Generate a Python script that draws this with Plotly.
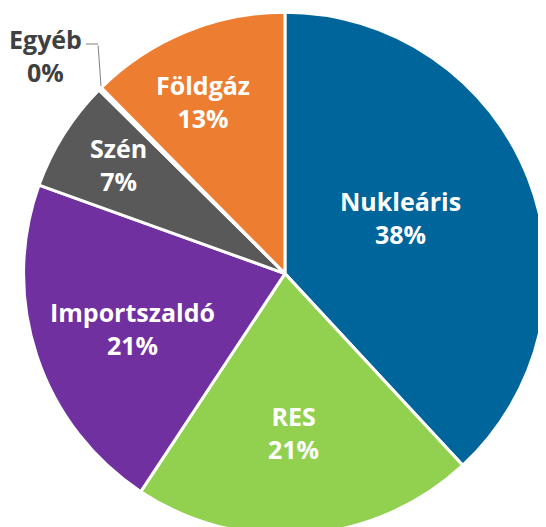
import plotly.graph_objects as go

labels = ["Nukleáris", "RES", "Importszaldó", "Szén", "Egyéb", "Földgáz"]
values = [38.1, 21.2, 21.2, 6.9, 0.2, 12.4]
pct_text = ["38%", "21%", "21%", "7%", "0%", "13%"]
colors = ["#00659B", "#92D050", "#7030A0", "#595959", "#A5A5A5", "#ED7D31"]

# label anchor positions (screen pixels)
label_pos = {
    "Nukleáris": (400, 218),
    "RES": (293, 432),
    "Importszaldó": (132, 328),
    "Szén": (118, 165),
    "Földgáz": (203, 102),
}
W, H = 546, 527
OFF = 8  # page body margin
FONT = "'Open Sans', Lato, sans-serif"


def px2paper(px, py):
    return (px - OFF) / W, 1 - (py - OFF) / H


fig = go.Figure(go.Pie(
    labels=labels, values=values,
    textinfo="none", sort=False, direction="clockwise", rotation=0,
    marker=dict(colors=colors, line=dict(color="white", width=3)),
    domain=dict(x=[0.0275, 0.987], y=[0.0, 0.992]),
    showlegend=False, hoverinfo="label+percent",
))

for lab, pct in zip(labels, pct_text):
    if lab in label_pos:
        x, y = px2paper(*label_pos[lab])
        fig.add_annotation(
            x=x, y=y, xref="paper", yref="paper",
            xanchor="center", yanchor="middle",
            text=f"<b>{lab}<br>{pct}</b>", showarrow=False,
            font=dict(family=FONT, size=25, color="white"),
        )

# Egyéb label with bent leader line
ex, ey = px2paper(45, 55)
fig.add_annotation(
    x=ex, y=ey, xref="paper", yref="paper", xanchor="center", yanchor="middle",
    text=f"<b>{labels[4]}<br>{pct_text[4]}</b>", showarrow=False,
    font=dict(family=FONT, size=25, color="#404040"),
)
tx, ty = px2paper(101, 86)
fig.add_annotation(
    x=tx, y=ty, xref="paper", yref="paper", text="", showarrow=True,
    arrowhead=0, arrowwidth=1, arrowcolor="#7F7F7F", ax=-3, ay=-42,
    standoff=0, startstandoff=0,
)
hx0, hy0 = px2paper(86, 44)
hx1, hy1 = px2paper(98, 44)
fig.add_shape(type="line", xref="paper", yref="paper", x0=hx0, y0=hy0, x1=hx1, y1=hy1,
              line=dict(color="#7F7F7F", width=1))

fig.update_layout(
    width=W, height=H, margin=dict(l=0, r=0, t=0, b=0),
    paper_bgcolor="white", plot_bgcolor="white",
)
fig.write_html("out.html")
